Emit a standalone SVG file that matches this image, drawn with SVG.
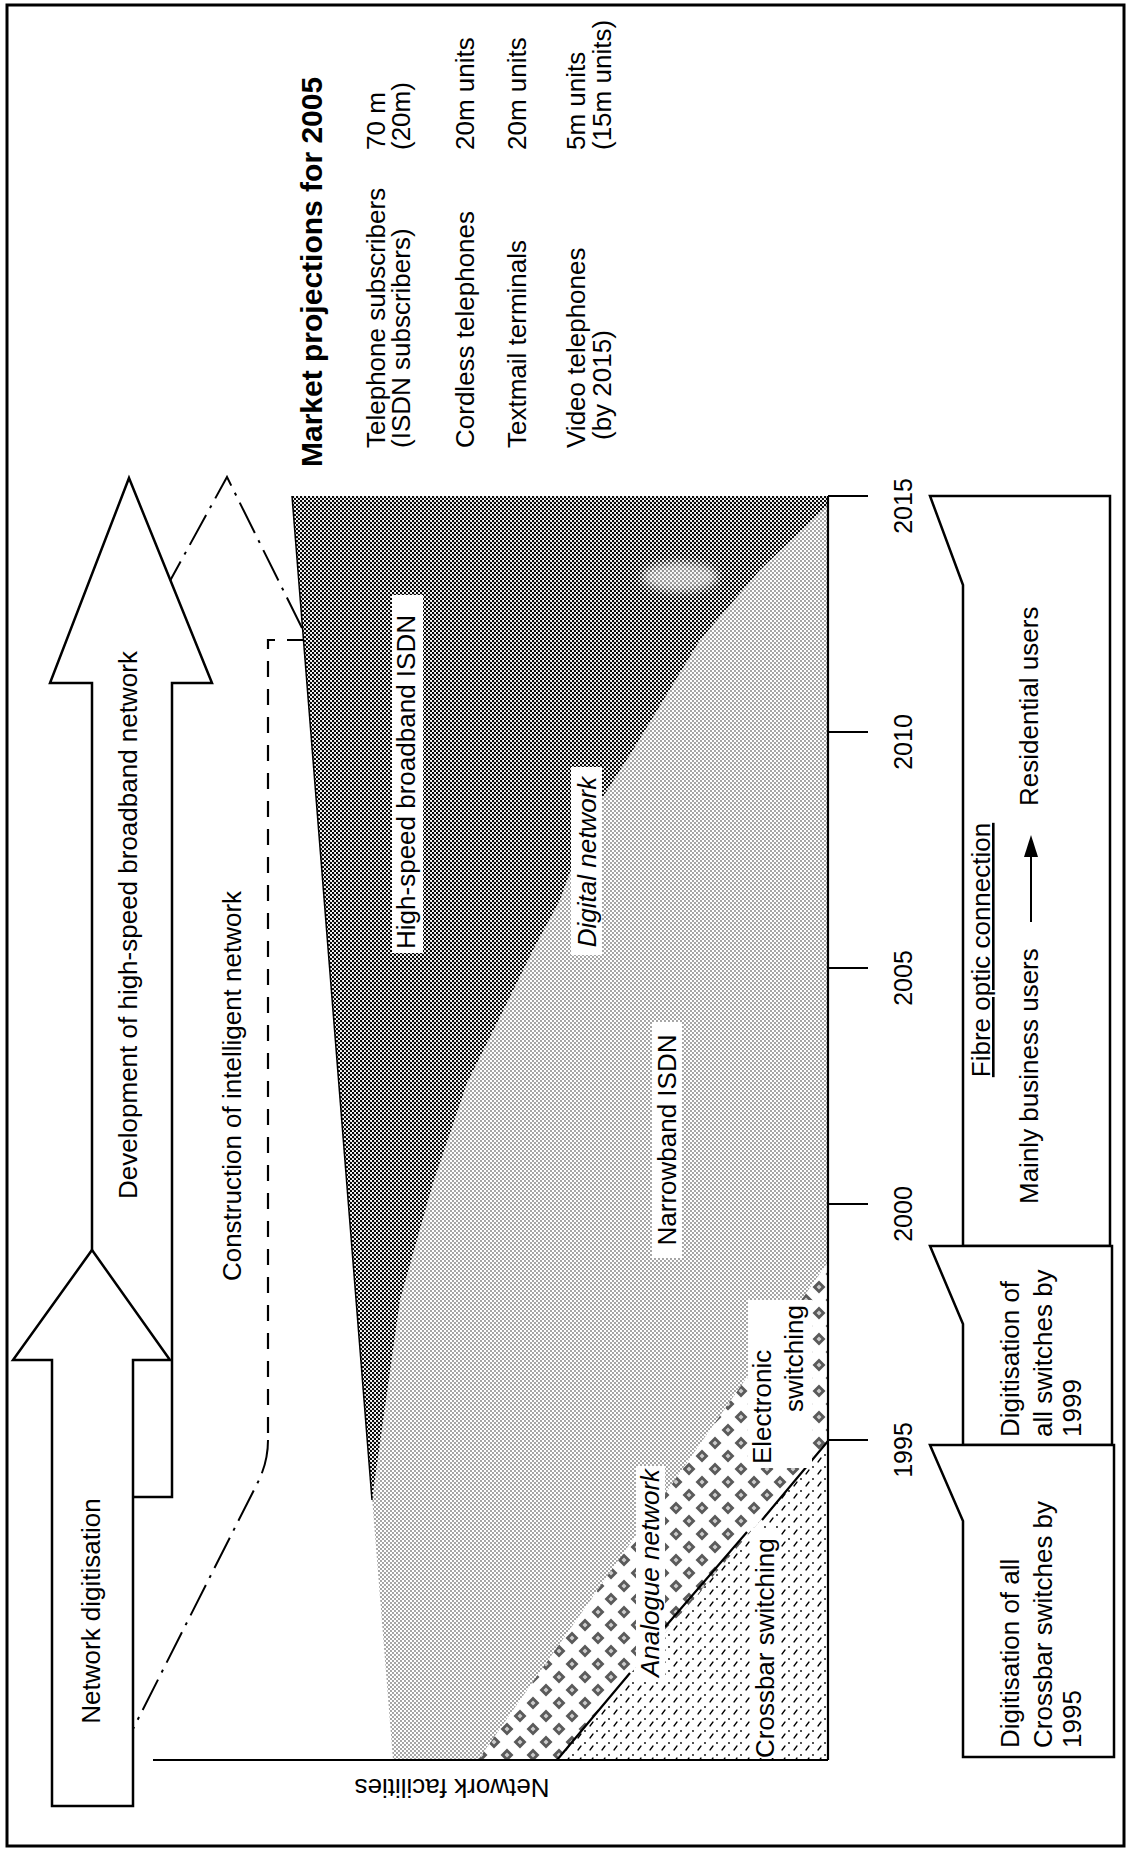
<svg xmlns="http://www.w3.org/2000/svg" width="1132" height="1850" viewBox="0 0 1132 1850">
<style>
.t{font-family:"Liberation Sans",Arial,Helvetica,sans-serif;font-size:26px;fill:#000}
.b{font-weight:bold;font-size:30px}
.i{font-style:italic}
.y{font-size:25px}
.ln{fill:none;stroke:#000;stroke-width:2.2}
.bx{fill:#fff;stroke:#000;stroke-width:2.5;stroke-linejoin:miter}
.ko{fill:#fff;stroke:none}
.dash{fill:none;stroke:#000;stroke-width:2.2;stroke-dasharray:16 12}
.dd{fill:none;stroke:#000;stroke-width:2;stroke-dasharray:34 8 3 8}
</style>
<defs>
<pattern id="dark" width="4" height="4" patternUnits="userSpaceOnUse">
<rect width="4" height="4" fill="#fff"/>
<circle cx="1" cy="1" r="1.2" fill="#000"/>
<circle cx="3" cy="3" r="1.2" fill="#000"/>
</pattern>
<pattern id="light" width="4" height="4" patternUnits="userSpaceOnUse">
<rect width="4" height="4" fill="#fff"/>
<circle cx="1" cy="1" r="0.65" fill="#000"/>
<circle cx="3" cy="3" r="0.65" fill="#000"/>
</pattern>
<pattern id="diam" width="26" height="26" patternUnits="userSpaceOnUse">
<rect width="26" height="26" fill="#fff"/>
<path d="M13 6.5L19.5 13L13 19.5L6.5 13Z M0 -6.5L6.5 0L0 6.5L-6.5 0Z M26 -6.5L32.5 0L26 6.5L19.5 0Z M0 19.5L6.5 26L0 32.5L-6.5 26Z M26 19.5L32.5 26L26 32.5L19.5 26Z" fill="#5a5a5a"/>
<path d="M13 10.5L15.5 13L13 15.5L10.5 13Z M0 -2.5L2.5 0L0 2.5L-2.5 0Z M26 -2.5L28.5 0L26 2.5L23.5 0Z M0 23.5L2.5 26L0 28.5L-2.5 26Z M26 23.5L28.5 26L26 28.5L23.5 26Z" fill="#ccc"/>
</pattern>
<pattern id="xbar" width="12" height="12" patternUnits="userSpaceOnUse">
<rect width="12" height="12" fill="#fff"/>
<path d="M2 10L5 6" stroke="#000" stroke-width="1.3" stroke-linecap="round"/>
<circle cx="9" cy="3" r="0.9" fill="#000"/>
</pattern>
<filter id="soft" x="-50%" y="-50%" width="200%" height="200%">
<feGaussianBlur stdDeviation="4"/>
</filter>
</defs>

<rect x="7" y="5" width="1117" height="1841" fill="#fff" stroke="#000" stroke-width="3"/>

<g id="chart">
<polygon points="292,496 828,496 828,1760 393,1760" fill="url(#light)"/>
<path d="M292 496 L828 496 L828 505 L760 570 L700 640 L633 750 L590 817 L560 900 L533 950 L500 1017 L467 1083 L433 1183 L400 1300 L386 1400 L372 1500 Z" fill="url(#dark)"/>
<ellipse cx="680" cy="577" rx="38" ry="15" fill="#fff" opacity="0.6" filter="url(#soft)"/>
<line x1="292" y1="496" x2="372" y2="1500" stroke="#000" stroke-width="1.5"/>
<polygon points="478,1760 828,1262 828,1441 557,1760" fill="url(#diam)"/>
<polygon points="557,1760 828,1441 828,1760" fill="url(#xbar)"/>
<path class="ln" d="M557 1760L630 1673 M665 1627L747 1532 M762 1520L828 1441"/>
<path class="ln" d="M828 496V1760 M153 1760H828"/>
<path class="ln" d="M828 496H868 M828 732H868 M828 968H868 M828 1204H868 M828 1440H868"/>
</g>

<g id="year-labels">
<text class="t y" text-anchor="middle" transform="translate(912,506) rotate(-90)">2015</text>
<text class="t y" text-anchor="middle" transform="translate(912,742) rotate(-90)">2010</text>
<text class="t y" text-anchor="middle" transform="translate(912,978) rotate(-90)">2005</text>
<text class="t y" text-anchor="middle" transform="translate(912,1214) rotate(-90)">2000</text>
<text class="t y" text-anchor="middle" transform="translate(912,1450) rotate(-90)">1995</text>
</g>

<g id="label-highspeed">
<rect class="ko" x="392" y="595" width="31" height="358"/>
<text class="t" text-anchor="middle" transform="translate(415,782) rotate(-90)">High-speed broadband ISDN</text>
</g>
<g id="label-digital">
<rect class="ko" x="571" y="767" width="31" height="188"/>
<text class="t i" text-anchor="middle" transform="translate(596,862) rotate(-90)">Digital network</text>
</g>
<g id="label-narrowband">
<rect class="ko" x="652" y="1022" width="30" height="236"/>
<text class="t" text-anchor="middle" transform="translate(676,1140) rotate(-90)">Narrowband ISDN</text>
</g>
<g id="label-analogue">
<rect class="ko" x="636" y="1466" width="29" height="214"/>
<text class="t i" text-anchor="middle" transform="translate(659,1573) rotate(-90)">Analogue network</text>
</g>
<g id="label-crossbar">
<rect class="ko" x="751" y="1528" width="29" height="230"/>
<text class="t" transform="translate(774,1758) rotate(-90)">Crossbar switching</text>
</g>
<g id="label-electronic">
<rect class="ko" x="748" y="1300" width="64" height="168"/>
<text class="t" transform="translate(771,1464) rotate(-90)">Electronic</text>
<text class="t" transform="translate(803,1412) rotate(-90)">switching</text>
</g>

<g id="connectors">
<path class="dd" d="M302 628 L227 477 L165 590"/>
<path class="dash" d="M303 640 H268 V1440"/>
<path class="dd" d="M268 1440 Q268 1462 258 1482 L133 1729"/>
</g>

<g id="arrow-development">
<polygon class="bx" points="129,478 212,683 172,683 172,1497 92,1497 92,683 50,683"/>
<text class="t" text-anchor="middle" transform="translate(137,925) rotate(-90)">Development of high-speed broadband network</text>
</g>
<g id="arrow-digitisation">
<polygon class="bx" points="92,1250 170,1360 133,1360 133,1806 52,1806 52,1360 13,1360"/>
<text class="t" text-anchor="middle" transform="translate(100,1611) rotate(-90)">Network digitisation</text>
</g>
<g id="label-intelligent">
<text class="t" text-anchor="middle" transform="translate(241,1086) rotate(-90)">Construction of intelligent network</text>
</g>
<g id="label-facilities">
<text class="t" text-anchor="middle" transform="translate(452,1779) rotate(180)">Network facilities</text>
</g>

<g id="market-projections">
<text class="t b" transform="translate(322,467) rotate(-90)">Market projections for 2005</text>
<text class="t" transform="translate(385,448) rotate(-90)">Telephone subscribers</text>
<text class="t" transform="translate(410,448) rotate(-90)">(ISDN subscribers)</text>
<text class="t" transform="translate(474,448) rotate(-90)">Cordless telephones</text>
<text class="t" transform="translate(526,448) rotate(-90)">Textmail terminals</text>
<text class="t" transform="translate(585,448) rotate(-90)">Video telephones</text>
<text class="t" transform="translate(611,440) rotate(-90)">(by 2015)</text>
<text class="t" transform="translate(385,150) rotate(-90)">70 m</text>
<text class="t" transform="translate(410,150) rotate(-90)">(20m)</text>
<text class="t" transform="translate(474,150) rotate(-90)">20m units</text>
<text class="t" transform="translate(526,150) rotate(-90)">20m units</text>
<text class="t" transform="translate(585,150) rotate(-90)">5m units</text>
<text class="t" transform="translate(611,150) rotate(-90)">(15m units)</text>
</g>

<g id="box-fibre">
<polygon class="bx" points="930,496 1110,496 1110,1246 963,1246 963,585"/>
<text class="t" text-anchor="middle" text-decoration="underline" transform="translate(990,950) rotate(-90)">Fibre optic connection</text>
<text class="t" transform="translate(1038,1204) rotate(-90)">Mainly business users</text>
<text class="t" transform="translate(1038,806) rotate(-90)">Residential users</text>
<path d="M1031 922V852" stroke="#000" stroke-width="2"/>
<path d="M1031 835L1024 857L1038 857Z" fill="#000"/>
</g>
<g id="box-1999">
<polygon class="bx" points="930,1246 1112,1246 1112,1445 963,1445 963,1324"/>
<text class="t" transform="translate(1019,1437) rotate(-90)">Digitisation of</text>
<text class="t" transform="translate(1052,1437) rotate(-90)">all switches by</text>
<text class="t" transform="translate(1081,1437) rotate(-90)">1999</text>
</g>
<g id="box-1995">
<polygon class="bx" points="930,1445 1114,1445 1114,1757 963,1757 963,1521"/>
<text class="t" transform="translate(1019,1748) rotate(-90)">Digitisation of all</text>
<text class="t" transform="translate(1052,1748) rotate(-90)">Crossbar switches by</text>
<text class="t" transform="translate(1081,1748) rotate(-90)">1995</text>
</g>
</svg>
